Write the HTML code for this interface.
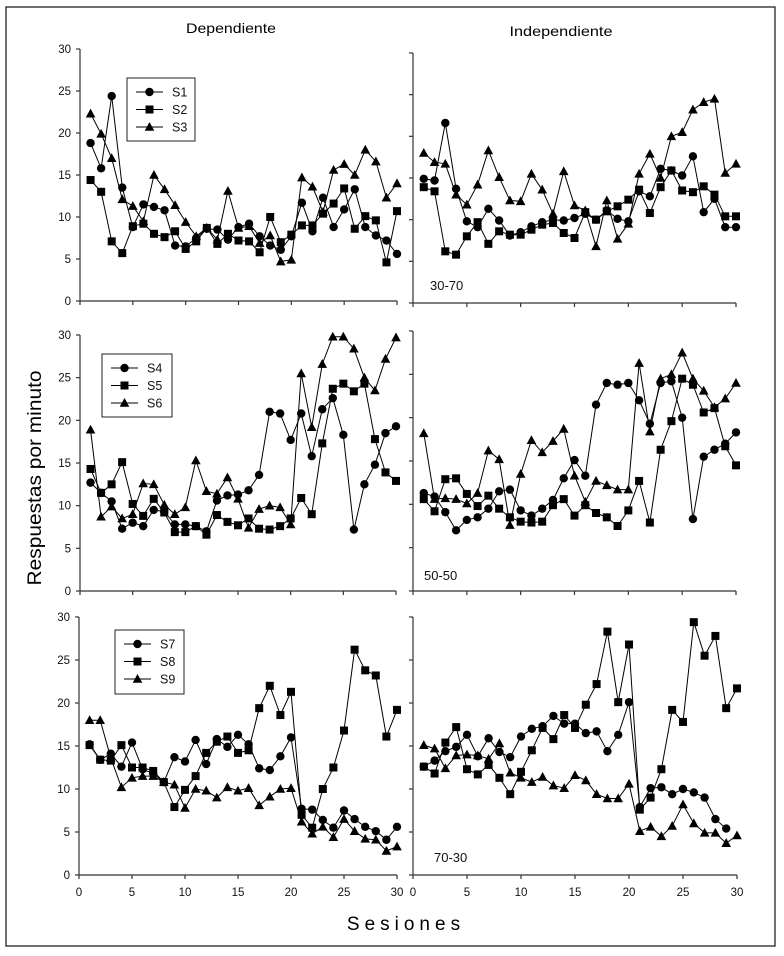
<!DOCTYPE html>
<html><head><meta charset="utf-8"><style>
html,body{margin:0;padding:0;background:#fff;}
svg{display:block;font-family:"Liberation Sans",Arial,sans-serif;}
</style></head><body>
<svg id="fig" width="784" height="956" viewBox="0 0 784 956">
<rect x="6" y="7" width="769" height="939" fill="none" stroke="#222" stroke-width="1.3"/>
<text x="231" y="33" font-size="14" text-anchor="middle" textLength="90" lengthAdjust="spacingAndGlyphs">Dependiente</text>
<text x="561" y="36" font-size="14" text-anchor="middle" textLength="103" lengthAdjust="spacingAndGlyphs">Independiente</text>
<text transform="translate(41,478) rotate(-90)" font-size="19" text-anchor="middle" textLength="215" lengthAdjust="spacingAndGlyphs">Respuestas por minuto</text>
<text x="406" y="930" font-size="19" text-anchor="middle" letter-spacing="5">Sesiones</text>
<g id="plots"></g>
</svg>
<script>
// Top row (30-70)
const S1 = [18.8,15.8,24.4,13.5,8.8,11.5,11.2,10.8,6.6,6.5,7.5,8.6,8.5,7.3,8.8,9.2,7.7,6.6,6.1,7.7,11.7,8.3,12.3,8.8,10.9,13.3,8.8,7.8,7.2,5.6];
const S2 = [14.4,13,7.1,5.7,8.9,9.2,8,7.6,8.3,6.2,7.1,8.7,6.8,8,7.2,7.1,5.8,10,7,7.9,9,9,10.4,11.6,13.4,8.6,10.1,9.6,4.6,10.7];
const S3 = [22.3,19.9,17,12.1,11.3,9.5,15,13.3,11.4,9.4,7.7,8.7,7.3,13.1,8.7,8.9,6.9,7.8,4.7,4.9,14.7,13.6,10.6,15.6,16.3,15,18,16.6,12.3,14];
const S1i = [14.9,14.7,21.6,13.7,9.8,9.1,11.3,9.9,8.1,8.5,9.2,9.7,10,9.9,10.2,10.7,10,11.1,10.1,9.8,13.4,12.8,16.1,15.9,15.3,17.6,10.9,12.5,9.1,9.1];
const S2i = [13.9,13.4,6.2,5.8,8,9.7,7.1,8.6,8.2,8.2,8.8,9.4,9.6,8.4,7.8,10.9,10,11,11.6,12.4,13.6,10.8,13.9,15.9,13.5,13.3,14,13,10.4,10.4];
const S3i = [18,16.9,16.7,13,11.8,14.2,18.3,15.1,12.3,12.2,15.5,13.6,10.7,15.8,11.7,11.1,6.8,12.3,7.7,9.5,15.5,17.9,15,20,20.5,23.2,24.1,24.5,15.6,16.7];
// Middle row (50-50)
const S4 = [12.7,11.5,10.5,7.3,8,7.6,9.5,9.3,7.8,7.8,7.6,7,10.6,11.2,11.3,11.8,13.6,21,20.8,17.7,20.8,15.8,21.3,22.6,18.3,7.2,12.5,14.8,18.5,19.3];
const S5 = [14.3,11.5,12.5,15.1,10.2,8.8,10.8,9.2,6.9,6.9,7.6,6.6,8.9,8.1,7.7,8.5,7.3,7.2,7.6,8.5,10.9,9,17.3,23.7,24.3,23.4,24.3,17.8,13.9,12.9];
const S6 = [18.9,8.7,9.9,8.5,9,12.6,12.5,10.1,9,9.8,15.3,11.7,11.4,13.3,10.8,7.4,9.6,10,9.8,7.8,25.5,19.2,26.6,29.8,29.8,28.4,25,23.5,27.2,29.7];
const S4i = [11.3,10.9,9.1,7,8.2,8.5,9.5,11.5,11.7,9.3,8.7,9.5,10.5,13,15.1,13.3,21.5,24,23.8,24,22,19.3,24,24.2,20,8.3,15.5,16.3,17,18.3];
const S5i = [10.6,9.2,12.9,13,11.2,9.8,11,9.5,8.5,8,7.9,8,9.9,10.6,8.7,9.9,9,8.5,7.5,9.3,12.7,7.9,16.3,19.6,24.5,23.8,20.6,21.1,16.7,14.5];
const S6i = [18.2,10.6,10.7,10.6,10.1,11.3,16.2,15.2,7.6,13.5,17.4,16,17.3,18.7,13.3,10.3,12.7,12.2,11.7,11.7,26.3,18.4,24.5,25,27.5,24.5,23.1,21.2,22.2,24];
// Bottom row (70-30)
const S7 = [15.2,13.4,14.1,12.6,15.4,12.3,11.8,10.8,13.7,13.2,15.7,12.9,15.8,14.9,16.3,15.2,12.4,12.2,13.8,16,7.7,7.6,6.4,5.5,7.5,6.5,5.6,5.1,4.1,5.6];
const S8 = [15.1,13.4,13.3,15.1,12.5,12.5,12.1,10.8,7.9,9.9,11.5,14.2,15.5,16.1,14.2,14.5,19.4,22,18.6,21.3,7,5.5,10,12.5,16.8,26.2,23.8,23.2,16.1,19.2];
const S9 = [18,18,13.6,10.2,11.3,11.5,11.5,10.8,10.5,7.8,10,9.8,9,10.2,9.8,10.1,8.1,9.1,10,10.1,6.2,4.8,5.6,4.4,6.5,5.1,4.2,4.1,2.8,3.3];
const S7i = [12.6,13.3,14.4,14.9,16.3,13.8,15.9,14.3,13.7,16.1,17,17.3,18.5,17.6,17.6,16.5,16.7,14.4,16.3,20.1,7.9,10.1,10.2,9.4,10,9.6,9,6.5,5.4,null];
const S8i = [12.6,11.8,15.4,17.2,12.3,11.7,12.8,11.3,9.4,12,14.5,17.1,15.8,18.6,17.1,19.8,22.2,28.3,20.1,26.8,7.6,9,12.3,19.2,17.8,29.4,25.5,27.8,19.4,21.7];
const S9i = [15.1,14.7,12.4,13.9,14,13.9,13.5,15.3,11.9,11.3,10.8,11.4,10.4,10.1,11.6,11,9.4,8.9,8.9,10.6,5.1,5.6,4.5,5.7,8.2,6,4.9,4.9,3.7,4.6];
const yTicks = [0,5,10,15,20,25,30];
const xTicks = [0,5,10,15,20,25,30];

const NS = 'http://www.w3.org/2000/svg';
const root = document.getElementById('plots');
function mk(tag, attrs, parent){ const e=document.createElementNS(NS,tag); for(const k in attrs) e.setAttribute(k,attrs[k]); (parent||root).appendChild(e); return e; }

const panels = [
 {id:'dep-30-70', x0:80,x1:397,y0:301,y1:49, yl:true, xl:false, series:[S1,S2,S3], names:['S1','S2','S3'], legend:[127,78,68,63]},
 {id:'ind-30-70', x0:413,x1:736,y0:303,y1:53, yl:false, xl:false, series:[S1i,S2i,S3i], label:'30-70', lx:430, ly:290},
 {id:'dep-50-50', x0:80,x1:396,y0:591,y1:335, yl:true, xl:false, series:[S4,S5,S6], names:['S4','S5','S6'], legend:[102,354,70,63]},
 {id:'ind-50-50', x0:413,x1:736,y0:591,y1:331, yl:false, xl:false, series:[S4i,S5i,S6i], label:'50-50', lx:424, ly:580},
 {id:'dep-70-30', x0:79,x1:397,y0:875,y1:617, yl:true, xl:true, series:[S7,S8,S9], names:['S7','S8','S9'], legend:[115,630,69,64]},
 {id:'ind-70-30', x0:413,x1:737,y0:875,y1:617, yl:false, xl:true, series:[S7i,S8i,S9i], label:'70-30', lx:434, ly:862}
];
const shapes = ['circle','square','triangle'];
function marker(g, shape, cx, cy){
  let e;
  if(shape==='circle') e=mk('circle',{cx:cx,cy:cy,r:4.2,fill:'#000'},g);
  else if(shape==='square') e=mk('rect',{x:cx-4,y:cy-4,width:8,height:8,fill:'#000'},g);
  else e=mk('polygon',{points:`${cx},${cy-5} ${cx+4.8},${cy+3.8} ${cx-4.8},${cy+3.8}`,fill:'#000'},g);
  return e;
}
panels.forEach(p=>{
  const g = mk('g',{});
  
  
  const X = v => p.x0 + (p.x1-p.x0)*v/30;
  const Y = v => p.y0 + (p.y1-p.y0)*v/30;
  const ax = mk('g',{stroke:'#333','stroke-width':1.2},g);
  
  
  mk('line',{x1:p.x0,y1:p.y0,x2:p.x0,y2:p.y1},ax);
  mk('line',{x1:p.x0,y1:p.y0,x2:p.x1,y2:p.y0},ax);
  yTicks.forEach(t=>{
    mk('line',{x1:p.x0-4,y1:Y(t),x2:p.x0,y2:Y(t)},ax);
    if(p.yl){ const tx=mk('text',{x:p.x0-9,y:Y(t)+4,'font-size':11.5,'text-anchor':'end',fill:'#111'},g); tx.textContent=t;
        }
  });
  xTicks.forEach(t=>{
    mk('line',{x1:X(t),y1:p.y0,x2:X(t),y2:p.y0+4},ax);
    if(p.xl){ const tx=mk('text',{x:X(t),y:p.y0+21,'font-size':11.5,'text-anchor':'middle',fill:'#111'},g); tx.textContent=t;
        }
  });
  p.series.forEach((s,si)=>{
    const sg = mk('g',{},g);
    
    
    let d='';
    s.forEach((v,i)=>{ if(v===null) return; d += (d?'L':'M')+X(i+1).toFixed(1)+','+Y(v).toFixed(1); });
    mk('path',{d:d,fill:'none',stroke:'#000','stroke-width':1},sg);
    s.forEach((v,i)=>{ if(v===null) return; const m=marker(sg,shapes[si],X(i+1),Y(v));
        });
  });
  if(p.legend){
    const [lx,ly,lw,lh]=p.legend;
    const lg=mk('g',{},g);
    
    
    mk('rect',{x:lx,y:ly,width:lw,height:lh,fill:'#fff',stroke:'#222','stroke-width':1},lg);
    p.names.forEach((n,i)=>{
      const yy=ly+14+i*17.5;
      mk('line',{x1:lx+9,y1:yy,x2:lx+36,y2:yy,stroke:'#000','stroke-width':1},lg);
      marker(lg,shapes[i],lx+22.5,yy);
      const t=mk('text',{x:lx+45,y:yy+4.5,'font-size':12.5,fill:'#111'},lg); t.textContent=n;
       
    });
  }
  if(p.label){
    const t=mk('text',{x:p.lx,y:p.ly,'font-size':13,fill:'#111'},g); t.textContent=p.label;
     
  }
});
</script>
</body></html>
